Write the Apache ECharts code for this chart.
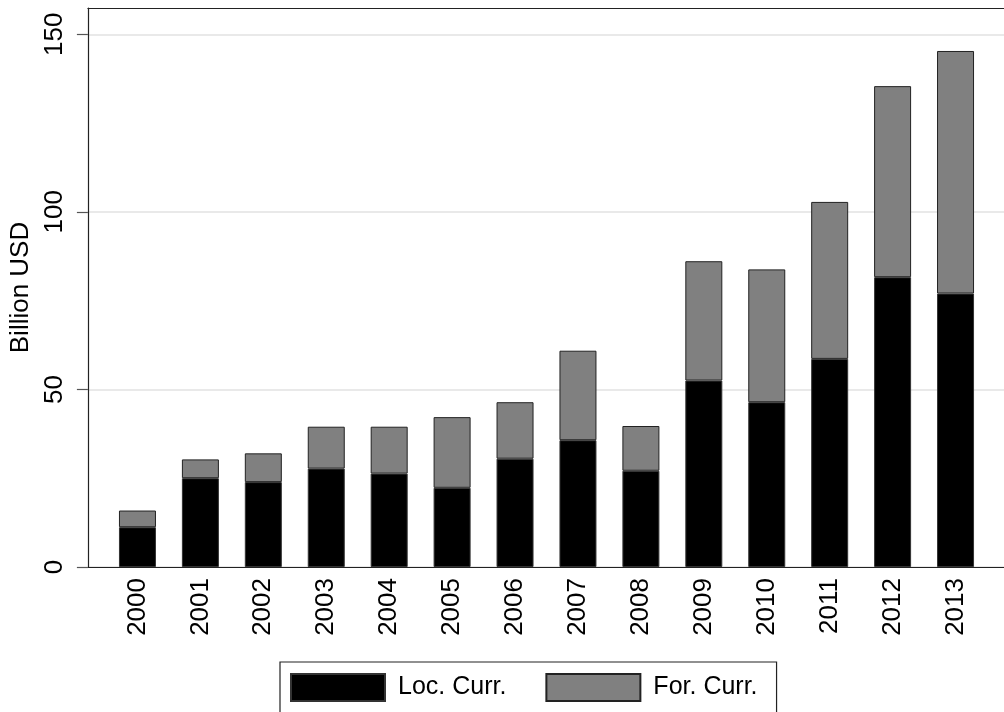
<!DOCTYPE html>
<html><head><meta charset="utf-8">
<script src="https://cdn.jsdelivr.net/npm/echarts@6/dist/echarts.min.js"></script>
<style>html,body{margin:0;padding:0;background:#fff}#c{width:1004px;height:712px}</style>
</head><body><div id="c"></div>
<script>
const years = ['2000','2001','2002','2003','2004','2005','2006','2007','2008','2009','2010','2011','2012','2013'];
const locCurr = [11.2, 25.0, 23.9, 27.7, 26.3, 22.3, 30.5, 35.7, 27.1, 52.5, 46.4, 58.6, 81.6, 77.0];
const forCurr = [4.7, 5.3, 8.1, 11.8, 13.2, 19.9, 15.9, 25.2, 12.6, 33.6, 37.4, 44.2, 53.8, 68.3];
const yTicks = [0, 50, 100, 150];
const yMax = 157.4;

const font = 'Liberation Sans, Arial, sans-serif';
const frameLine = {show: true, lineStyle: {color: '#222', width: 1.2}};
const chart = echarts.init(document.getElementById('c'));
chart.setOption({
  animation: false,
  backgroundColor: '#fff',
  grid: [
    {left: 85, top: 8, right: -10, bottom: 145},
    {left: 106, top: 8, right: 17, bottom: 145}
  ],
  legend: {
    data: ['Loc. Curr.', 'For. Curr.'],
    left: 280, top: 662,
    orient: 'horizontal',
    icon: 'rect',
    itemWidth: 94, itemHeight: 27, itemGap: 39,
    padding: [11, 19, 12, 10],
    borderColor: '#222', borderWidth: 1.2,
    textStyle: {fontFamily: font, fontSize: 25, color: '#000', padding: [0, 0, 0, 8]}
  },
  xAxis: [
    {type: 'value', gridIndex: 0, min: 0, max: 1, position: 'bottom',
     axisLine: frameLine, axisTick: {show: false}, axisLabel: {show: false}, splitLine: {show: false}},
    {type: 'category', gridIndex: 1, data: years, boundaryGap: true,
     axisLine: {show: false}, axisTick: {show: false},
     axisLabel: {rotate: 90, margin: 11, fontFamily: font, fontSize: 26, color: '#000'}},
    {type: 'value', gridIndex: 0, min: 0, max: 1, position: 'top',
     axisLine: frameLine, axisTick: {show: false}, axisLabel: {show: false}, splitLine: {show: false}}
  ],
  yAxis: [
    {type: 'value', gridIndex: 0, min: 0, max: yMax, interval: 50,
     name: 'Billion USD', nameLocation: 'middle', nameGap: 52, nameRotate: 90,
     nameTextStyle: {fontFamily: font, fontSize: 26, color: '#000'},
     axisLine: frameLine,
     axisTick: {show: true, length: 11, lineStyle: {color: '#555', width: 1.2}, customValues: yTicks},
     axisLabel: {rotate: 90, margin: 20, fontFamily: font, fontSize: 26, color: '#000', customValues: yTicks,
       formatter: v => String(v)},
     splitLine: {show: true, lineStyle: {color: '#e2e2e2', width: 1.5}}},
    {type: 'value', gridIndex: 1, min: 0, max: yMax, show: false, splitLine: {show: false}}
  ],
  series: [
    {name: 'Loc. Curr.', type: 'bar', stack: 'a', xAxisIndex: 1, yAxisIndex: 1, data: locCurr, barWidth: 37,
     itemStyle: {color: '#000', borderColor: '#333', borderWidth: 1}},
    {name: 'For. Curr.', type: 'bar', stack: 'a', xAxisIndex: 1, yAxisIndex: 1, data: forCurr, barWidth: 37,
     itemStyle: {color: '#808080', borderColor: '#222', borderWidth: 1}}
  ]
});
</script></body></html>
